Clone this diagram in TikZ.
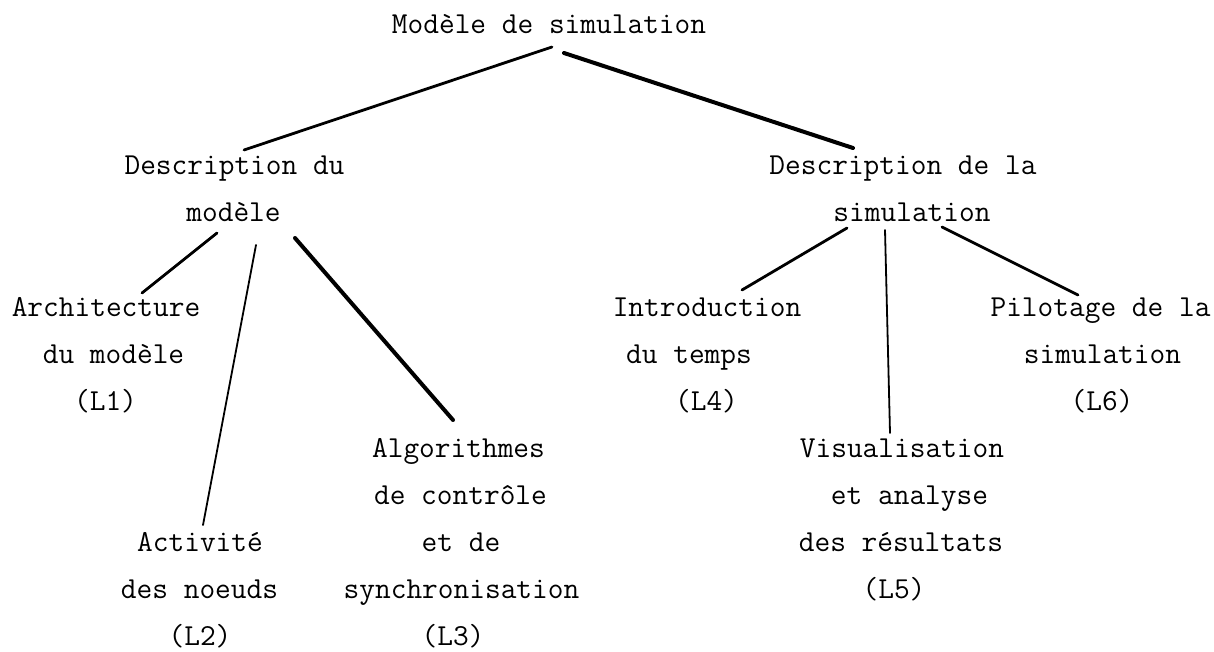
\documentclass[tikz,border=0pt]{standalone}
\begin{document}
\begin{tikzpicture}[x=1pt,y=-1pt,
  lbl/.style={anchor=base, inner sep=0pt, font=\ttfamily\fontsize{30.5}{36}\selectfont},
  thin/.style={line width=1.8pt},
  mid/.style={line width=2.8pt},
  thick/.style={line width=4pt},
  every path/.style={line cap=round}]
\useasboundingbox (0,0) rectangle (1214,652);
% level 0
\node[lbl] (t) at (549,34) {Modèle de simulation};
% level 1
\node[lbl] (d1) at (234.5,175) {Description du};
\node[lbl] (d1b) at (233.5,222) {modèle};
\node[lbl] (d2) at (903,175) {Description de la};
\node[lbl] (d2b) at (912,222) {simulation};
% level 2 left
\node[lbl] (a1) at (106,316) {Architecture};
\node[lbl] (a2) at (113.5,363) {du modèle};
\node[lbl] (a3) at (105.5,410) {(L1)};
\node[lbl] (c1) at (200,551) {Activité};
\node[lbl] (c2) at (199.5,598) {des noeuds};
\node[lbl] (c3) at (200,645) {(L2)};
\node[lbl] (g1) at (458.5,457) {Algorithmes};
\node[lbl] (g2) at (460.5,504) {de contrôle};
\node[lbl] (g3) at (461,551) {et de};
\node[lbl] (g4) at (461.5,598) {synchronisation};
\node[lbl] (g5) at (453,645) {(L3)};
% level 2 right
\node[lbl] (i1) at (707,316) {Introduction};
\node[lbl] (i2) at (689,363) {du temps};
\node[lbl] (i3) at (706.5,410) {(L4)};
\node[lbl] (v1) at (902,457) {Visualisation};
\node[lbl] (v2) at (909.5,504) {et analyse};
\node[lbl] (v3) at (901,551) {des résultats};
\node[lbl] (v4) at (894,598) {(L5)};
\node[lbl] (p1) at (1100.5,316) {Pilotage de la};
\node[lbl] (p2) at (1102.5,363) {simulation};
\node[lbl] (p3) at (1102,410) {(L6)};
% connectors
\draw[mid] ([shift={(3,13)}]t.base) -- ([shift={(9.5,-25)}]d1.base);
\draw[thick] ([shift={(15,19)}]t.base) -- ([shift={(-50,-27)}]d2.base);
\draw[mid] ([shift={(-16.5,11)}]d1b.base) -- ([shift={(36,-23)}]a1.base);
\draw[thin] ([shift={(22.5,23)}]d1b.base) -- ([shift={(3,-26)}]c1.base);
\draw[thick] ([shift={(61.5,16)}]d1b.base) -- ([shift={(-5.5,-37)}]g1.base);
\draw[mid] ([shift={(-65,6)}]d2b.base) -- ([shift={(35,-26)}]i1.base);
\draw[thin] ([shift={(-27,8)}]d2b.base) -- ([shift={(-12,-24)}]v1.base);
\draw[mid] ([shift={(30,5)}]d2b.base) -- ([shift={(-22.5,-21)}]p1.base);
\end{tikzpicture}
\end{document}
